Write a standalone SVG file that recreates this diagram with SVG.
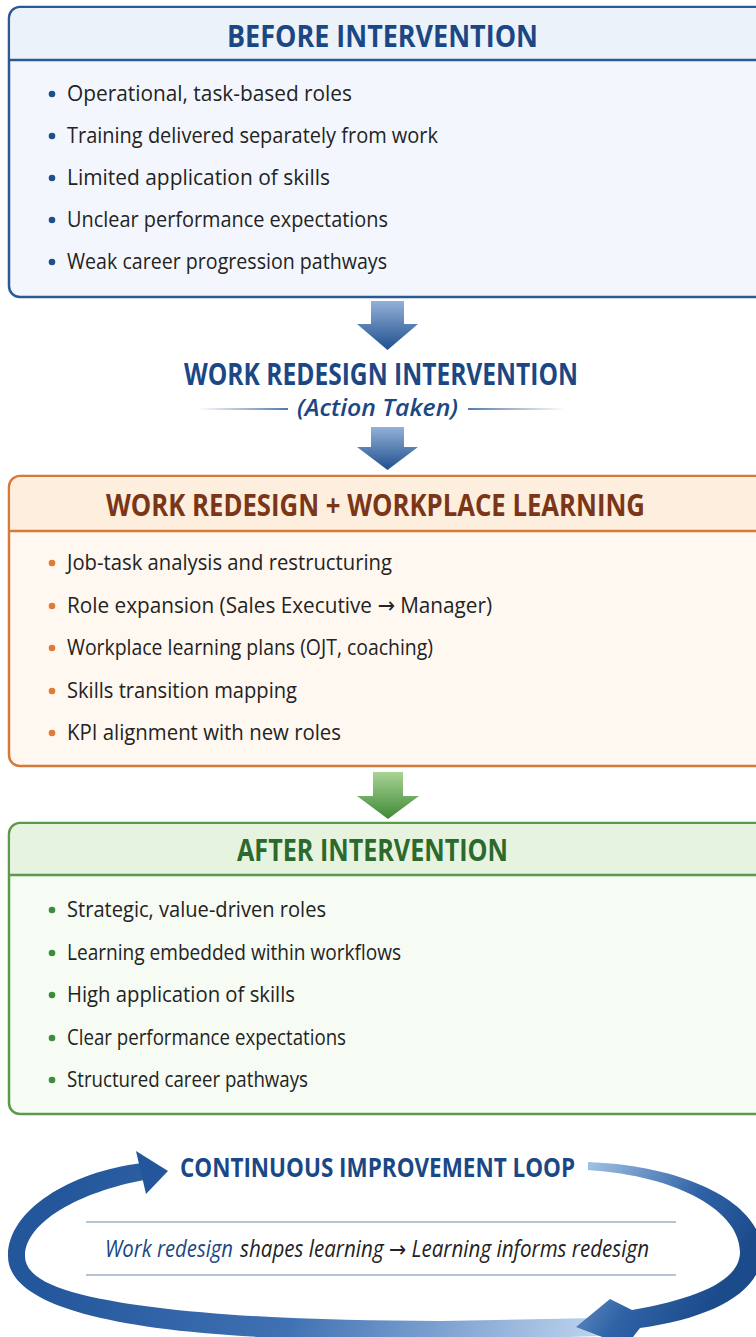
<svg xmlns="http://www.w3.org/2000/svg" width="756" height="1337" viewBox="0 0 756 1337">
  <defs>
    <style>
      .title { font-family: "Open Sans", "Noto Sans", sans-serif; font-weight: 700; font-size: 31px; }
      .item { font-family: "Open Sans", "Noto Sans", "DejaVu Sans", sans-serif; font-size: 22.5px; fill: #232323; }
      .blueT { fill: #1b4785; }
      .orangeT { fill: #7b3517; }
      .greenT { fill: #2b6a2c; }
      .sub { font-family: "Open Sans", "Noto Sans", sans-serif; font-weight: 600; font-style: italic; font-size: 23px; fill: #1b4785; }
      .loopT { font-family: "Open Sans", "Noto Sans", sans-serif; font-weight: 700; font-size: 26px; fill: #1b4785; }
      .loopS { font-family: "Open Sans", "Noto Sans", "DejaVu Sans", sans-serif; font-style: italic; font-size: 23px; fill: #232323; }
      .rule { stroke: #9fb0c4; stroke-width: 1.5; }
    </style>
    <linearGradient id="gBlueDown" x1="0" y1="0" x2="0" y2="1">
      <stop offset="0" stop-color="#93b1d8"/>
      <stop offset="1" stop-color="#1f4f8f"/>
    </linearGradient>
    <linearGradient id="gGreenDown" x1="0" y1="0" x2="0" y2="1">
      <stop offset="0" stop-color="#a9d394"/>
      <stop offset="1" stop-color="#3f8a36"/>
    </linearGradient>
    <linearGradient id="gFadeL" x1="0" y1="0" x2="1" y2="0">
      <stop offset="0" stop-color="#2b5a93" stop-opacity="0"/>
      <stop offset="1" stop-color="#2b5a93" stop-opacity="1"/>
    </linearGradient>
    <linearGradient id="gFadeR" x1="0" y1="0" x2="1" y2="0">
      <stop offset="0" stop-color="#2b5a93" stop-opacity="1"/>
      <stop offset="1" stop-color="#2b5a93" stop-opacity="0"/>
    </linearGradient>
    <linearGradient id="gLoopLeft" gradientUnits="userSpaceOnUse" x1="60" y1="1200" x2="600" y2="1330">
      <stop offset="0" stop-color="#23569a"/>
      <stop offset="0.45" stop-color="#3f71b3"/>
      <stop offset="1" stop-color="#bed4ee"/>
    </linearGradient>
    <linearGradient id="gLoopRight" gradientUnits="userSpaceOnUse" x1="590" y1="1165" x2="740" y2="1260">
      <stop offset="0" stop-color="#9fbfe2"/>
      <stop offset="0.6" stop-color="#2f63a6"/>
      <stop offset="1" stop-color="#1c4b8c"/>
    </linearGradient>
  </defs>

  <rect width="756" height="1337" fill="#ffffff"/>

  <!-- Before -->
  <g id="before">
    <rect x="9" y="7" width="770" height="290" rx="11" fill="#f3f7fd" stroke="#2b5a93" stroke-width="2.5"/>
    <path d="M10.3,60 V18 a10,10 0 0 1 10,-10 H779 V60 Z" fill="#ecf2fa"/>
    <line x1="9" y1="60" x2="779" y2="60" stroke="#2b5a93" stroke-width="2.5"/>
    <text class="title blueT" x="227" y="47" textLength="311" lengthAdjust="spacingAndGlyphs">BEFORE INTERVENTION</text>
    <g fill="#1f4f8f">
      <circle cx="52" cy="94" r="3.3"/>
      <circle cx="52" cy="136" r="3.3"/>
      <circle cx="52" cy="178" r="3.3"/>
      <circle cx="52" cy="220" r="3.3"/>
      <circle cx="52" cy="262" r="3.3"/>
    </g>
    <text class="item" x="67" y="101" textLength="285" lengthAdjust="spacingAndGlyphs">Operational, task-based roles</text>
    <text class="item" x="67" y="143" textLength="371" lengthAdjust="spacingAndGlyphs">Training delivered separately from work</text>
    <text class="item" x="67" y="185" textLength="263" lengthAdjust="spacingAndGlyphs">Limited application of skills</text>
    <text class="item" x="67" y="227" textLength="321" lengthAdjust="spacingAndGlyphs">Unclear performance expectations</text>
    <text class="item" x="67" y="269" textLength="320" lengthAdjust="spacingAndGlyphs">Weak career progression pathways</text>
  </g>

  <!-- Intervention label -->
  <g id="intervention">
    <text class="title blueT" x="184" y="385" font-size="28" textLength="394" lengthAdjust="spacingAndGlyphs">WORK REDESIGN INTERVENTION</text>
    <text class="sub" x="297" y="416" textLength="161" lengthAdjust="spacingAndGlyphs">(Action Taken)</text>
    <rect x="197" y="408.2" width="91" height="1.6" fill="url(#gFadeL)"/>
    <rect x="468" y="408.2" width="97" height="1.6" fill="url(#gFadeR)"/>
  </g>

  <!-- Work redesign + workplace learning -->
  <g id="redesign">
    <rect x="9" y="476" width="770" height="290" rx="11" fill="#fff8f1" stroke="#d67a3c" stroke-width="2.5"/>
    <path d="M10.3,531 V487 a10,10 0 0 1 10,-10 H779 V531 Z" fill="#fdeedd"/>
    <line x1="9" y1="531" x2="779" y2="531" stroke="#d67a3c" stroke-width="2.5"/>
    <text class="title orangeT" x="106" y="516" textLength="539" lengthAdjust="spacingAndGlyphs">WORK REDESIGN + WORKPLACE LEARNING</text>
    <g fill="#e07a35">
      <circle cx="52" cy="563" r="3.3"/>
      <circle cx="52" cy="606" r="3.3"/>
      <circle cx="52" cy="648" r="3.3"/>
      <circle cx="52" cy="691" r="3.3"/>
      <circle cx="52" cy="733" r="3.3"/>
    </g>
    <text class="item" x="67" y="570" textLength="325" lengthAdjust="spacingAndGlyphs">Job-task analysis and restructuring</text>
    <text class="item" x="67" y="613" textLength="425" lengthAdjust="spacingAndGlyphs">Role expansion (Sales Executive → Manager)</text>
    <text class="item" x="67" y="655" textLength="366" lengthAdjust="spacingAndGlyphs">Workplace learning plans (OJT, coaching)</text>
    <text class="item" x="67" y="698" textLength="230" lengthAdjust="spacingAndGlyphs">Skills transition mapping</text>
    <text class="item" x="67" y="740" textLength="274" lengthAdjust="spacingAndGlyphs">KPI alignment with new roles</text>
  </g>

  <!-- After -->
  <g id="after">
    <rect x="9" y="823" width="770" height="291" rx="11" fill="#f6fbf3" stroke="#5b9a4b" stroke-width="2.5"/>
    <path d="M10.3,875 V834 a10,10 0 0 1 10,-10 H779 V875 Z" fill="#e6f3df"/>
    <line x1="9" y1="875" x2="779" y2="875" stroke="#5b9a4b" stroke-width="2.5"/>
    <text class="title greenT" x="237" y="861" textLength="271" lengthAdjust="spacingAndGlyphs">AFTER INTERVENTION</text>
    <g fill="#3d8b3d">
      <circle cx="52" cy="910" r="3.3"/>
      <circle cx="52" cy="953" r="3.3"/>
      <circle cx="52" cy="995" r="3.3"/>
      <circle cx="52" cy="1038" r="3.3"/>
      <circle cx="52" cy="1080" r="3.3"/>
    </g>
    <text class="item" x="67" y="917" textLength="259" lengthAdjust="spacingAndGlyphs">Strategic, value-driven roles</text>
    <text class="item" x="67" y="960" textLength="334" lengthAdjust="spacingAndGlyphs">Learning embedded within workflows</text>
    <text class="item" x="67" y="1002" textLength="228" lengthAdjust="spacingAndGlyphs">High application of skills</text>
    <text class="item" x="67" y="1045" textLength="279" lengthAdjust="spacingAndGlyphs">Clear performance expectations</text>
    <text class="item" x="67" y="1087" textLength="241" lengthAdjust="spacingAndGlyphs">Structured career pathways</text>
  </g>

  <!-- Loop -->
  <g id="loop">
    <text class="loopT" x="180" y="1177" textLength="395" lengthAdjust="spacingAndGlyphs">CONTINUOUS IMPROVEMENT LOOP</text>
    <line class="rule" x1="86" y1="1222" x2="676" y2="1222"/>
    <line class="rule" x1="86" y1="1275" x2="676" y2="1275"/>
    <text class="loopS" x="105" y="1257" fill="#1b4785" style="fill:#1b4785" textLength="128" lengthAdjust="spacingAndGlyphs">Work redesign</text>
    <text class="loopS" x="240" y="1257" textLength="409" lengthAdjust="spacingAndGlyphs">shapes learning → Learning informs redesign</text>
  </g>

  <!-- Connectors -->
  <g id="connectors">
    <path d="M371,301 H404 V324 H418 L387.5,350 L357,324 H371 Z" fill="url(#gBlueDown)"/>
    <path d="M371,427 H404 V447 H418 L387.5,470 L357,447 H371 Z" fill="url(#gBlueDown)"/>
    <path d="M373,772 H403 V796 H419 L388,819 L357,796 H373 Z" fill="url(#gGreenDown)"/>
    <!-- loop: left/bottom arc with head at top -->
    <path d="M142,1163 C70,1172 8,1210 8,1256 C8,1300 90,1328 260,1337 L440,1341 L600,1336 L588,1327 L598,1318 L440,1321 C300,1321 150,1314 72,1292 C38,1282 25,1270 25,1256 C25,1222 80,1192 144,1180 Z" fill="url(#gLoopLeft)"/>
    <path d="M136,1151 L168,1171 L146,1194 Z" fill="#23569a"/>
    <!-- loop: right arc with head at bottom -->
    <path d="M588,1162 C690,1166 762,1205 762,1252 C762,1292 712,1318 640,1328 L626,1346 L576,1327 L610,1299 L632,1310 C700,1298 740,1280 740,1252 C740,1212 680,1176 588,1170 Z" fill="url(#gLoopRight)"/>
  </g>
</svg>
